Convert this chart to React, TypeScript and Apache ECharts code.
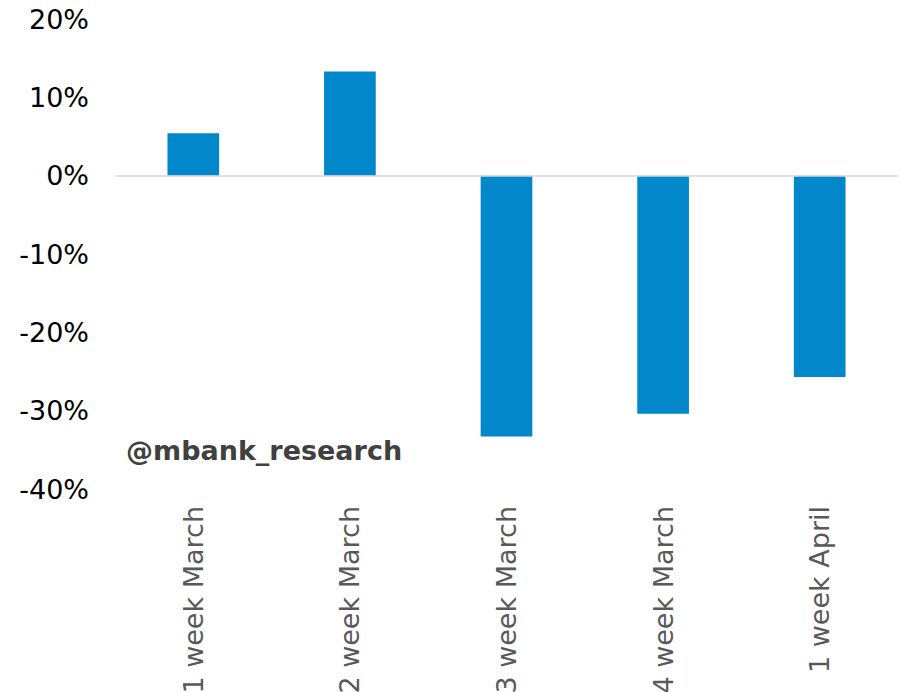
import React, { useEffect, useRef } from "react";
import * as echarts from "echarts";

const categories = ["1 week March", "2 week March", "3 week March", "4 week March", "1 week April"];
const values = [5.4, 13.3, -33.3, -30.4, -25.7];
const yMin = -40;
const yMax = 20;
const yStep = 10;
const watermark = "@mbank_research";

export default function App() {
  const ref = useRef<HTMLDivElement>(null);
  useEffect(() => {
    if (!ref.current) return;
    const chart = echarts.init(ref.current, null, { renderer: "svg" });
    chart.setOption({
      animation: false,
      grid: { left: 115, right: 3, top: 19, height: 470, containLabel: false, outerBoundsMode: "none" },
      xAxis: {
        type: "category",
        data: categories,
        axisLine: { show: false },
        axisTick: { show: false },
        axisLabel: {
          rotate: 90,
          interval: 0,
          margin: 17,
          color: "#595959",
          fontSize: 27,
          fontFamily: "DejaVu Sans",
        },
      },
      yAxis: {
        type: "value",
        min: yMin,
        max: yMax,
        interval: yStep,
        splitLine: { show: false },
        axisLine: { show: false },
        axisTick: { show: false },
        axisLabel: {
          formatter: (v: number) => `${v}%`,
          color: "#000000",
          fontSize: 27,
          fontFamily: "DejaVu Sans",
          margin: 26,
        },
      },
      series: [
        {
          type: "bar",
          data: values,
          barWidth: "33%",
          itemStyle: { color: "#0288ca" },
          markLine: {
            silent: true,
            symbol: "none",
            label: { show: false },
            lineStyle: { color: "#d9d9d9", width: 1.5, type: "solid" },
            data: [{ yAxis: 0 }],
          },
          z: 3,
        },
      ],
      graphic: [
        {
          type: "text",
          left: 126,
          top: 437,
          style: {
            text: watermark,
            fill: "#404040",
            font: "bold 27px 'DejaVu Sans'",
          },
        },
      ],
    });
    return () => chart.dispose();
  }, []);
  return <div ref={ref} style={{ width: 901, height: 692, position: "absolute", left: 0, top: 0 }} />;
}
